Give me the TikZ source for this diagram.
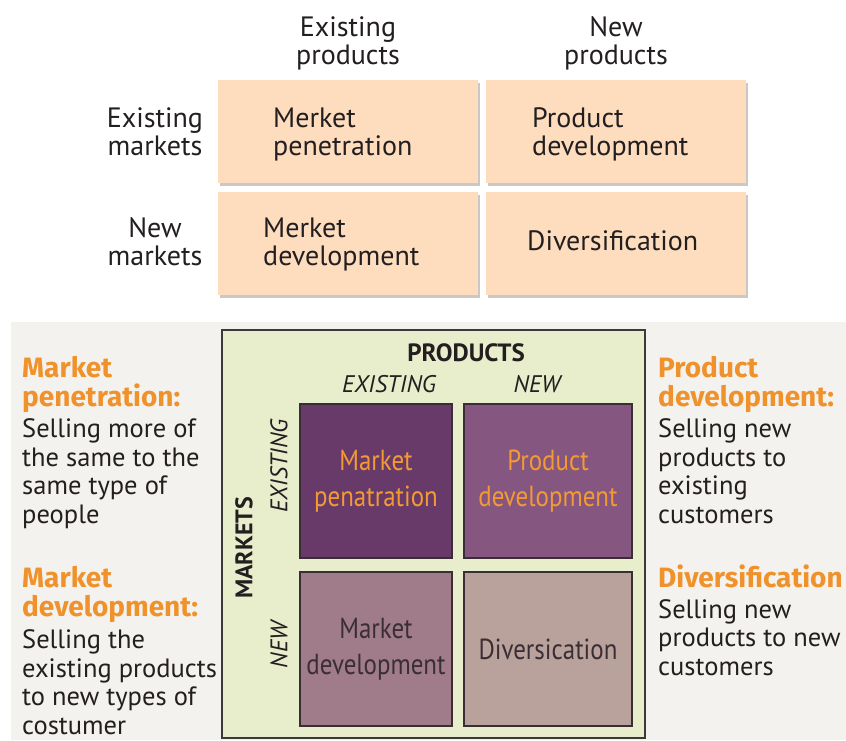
\documentclass[tikz,border=0pt]{standalone}
\usepackage{fontspec}
\setmainfont{PT Sans}
\newfontfamily\condfont[FakeStretch=0.86]{PT Sans}
\newfontfamily\headfont{Fira Sans}
\usetikzlibrary{shadows}
\definecolor{ink}{HTML}{231F20}
\definecolor{peachc}{HTML}{FDDDBE}
\definecolor{bgc}{HTML}{F4F2EE}
\definecolor{greenc}{HTML}{E8EDCB}
\definecolor{framec}{HTML}{3A3A38}
\definecolor{orangec}{HTML}{F0922B}
\definecolor{boxorange}{HTML}{F39A34}
\definecolor{pA}{HTML}{673A6A}
\definecolor{pB}{HTML}{845680}
\definecolor{pC}{HTML}{A07C8A}
\definecolor{pD}{HTML}{B9A19C}
\definecolor{darktxt}{HTML}{3A2E35}
\begin{document}
\begin{tikzpicture}[x=1pt,y=-1pt,
  txt/.style={font=\fontsize{28}{28}\selectfont, text=ink, inner sep=0pt, align=center},
  ptxt/.style={font=\fontsize{28}{27.5}\selectfont, text=ink, inner sep=0pt, align=left},
  peach/.style={fill=peachc, minimum width=260pt, minimum height=103pt, inner sep=0pt,
    drop shadow={shadow xshift=2pt, shadow yshift=-3pt, fill=black!30, opacity=0.7}},
  cell/.style={draw=darktxt, line width=1.2pt, minimum height=154pt, inner sep=0pt,
    align=center, font=\condfont\fontsize{29}{36}\selectfont},
  axis/.style={font=\fontsize{24}{26}\selectfont\itshape, text=ink, inner sep=0pt},
  capsb/.style={font=\bfseries\fontsize{24}{26}\selectfont, text=ink, inner sep=0pt},
  head/.style={font=\headfont\bfseries\fontsize{28}{29}\selectfont, text=orangec, inner sep=0pt, align=left},
  body/.style={font=\fontsize{26.5}{28.5}\selectfont, text=ink, inner sep=0pt, align=left}]
\useasboundingbox (0,0) rectangle (846,740);
\fill[white] (0,0) rectangle (846,740);
% ---------- upper matrix ----------
\node[peach] (q1) at (348,131.5) {};
\node[peach] (q2) at (616,131.5) {};
\node[peach] (q3) at (348,243.5) {};
\node[peach] (q4) at (616,243.5) {};
\node[txt, anchor=base] (ep) at (348,64) {Existing\\products};
\node[txt, anchor=base] (np) at (616,64) {New\\products};
\node[txt, anchor=base] (em) at (155,155) {Existing\\markets};
\node[txt, anchor=base] (nm) at (155,265) {New\\markets};
\node[ptxt, anchor=base west] (t1) at (273,155) {Merket\\penetration};
\node[ptxt, anchor=base west] (t2) at (532,155) {Product\\development};
\node[ptxt, anchor=base west] (t3) at (263,265) {Merket\\development};
\node[ptxt, anchor=base west] (t4) at (527,250) {Diversification};
% ---------- lower panel ----------
\fill[bgc] (11,322) rectangle (846,740);
\node[draw=framec, line width=1.5pt, fill=greenc, minimum width=423pt, minimum height=408pt, inner sep=0pt] (frame) at (433.5,534) {};
\node[cell, fill=pA, text=boxorange, minimum width=152pt] (c1) at (376,481) {Market\\penatration};
\node[cell, fill=pB, text=boxorange, minimum width=168pt] (c2) at (548,481) {Product\\development};
\node[cell, fill=pC, text=darktxt, minimum width=152pt] (c3) at (376,649) {Market\\development};
\node[cell, fill=pD, text=darktxt, minimum width=168pt] (c4) at (548,649) {Diversication};
\node[capsb, font=\bfseries\fontsize{25}{26}\selectfont] (prod) at (466,353) {PRODUCTS};
\node[axis] (pex) at (389,384) {EXISTING};
\node[axis] (pnew) at (537,384) {NEW};
\node[capsb, rotate=90] (mkt) at (244,548) {MARKETS};
\node[axis, rotate=90] (mex) at (279,466) {EXISTING};
\node[axis, rotate=90] (mnew) at (279,645) {NEW};
% left texts
\node[head, anchor=base west] (h1) at (22,406) {Market\\penetration:};
\node[body, anchor=base west] (b1) at (22,523) {Selling more of\\the same to the\\same type of\\people};
\node[head, anchor=base west] (h2) at (22,616) {Market\\development:};
\node[body, anchor=base west] (b2) at (22,734) {Selling the\\existing products\\to new types of\\costumer};
% right texts
\node[head, anchor=base west] (h3) at (658,406) {Product\\development:};
\node[body, anchor=base west] (b3) at (658,523) {Selling new\\products to\\existing\\customers};
\node[head, anchor=base west] (h4) at (658,587) {Diversification};
\node[body, anchor=base west] (b4) at (658,675) {Selling new\\products to new\\customers};
\end{tikzpicture}
\end{document}
